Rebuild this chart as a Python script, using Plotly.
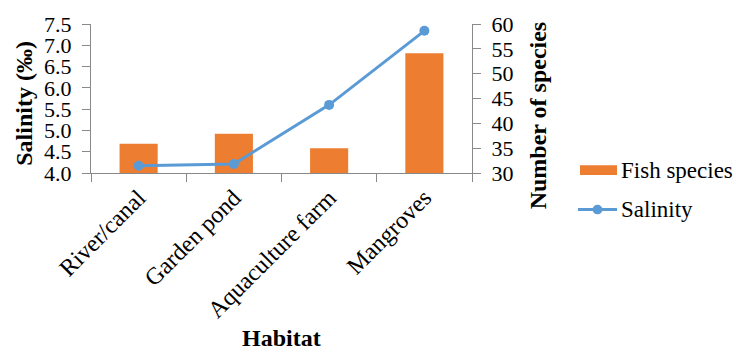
import plotly.graph_objects as go

# Habitat categories and measurements
habitats = ["River/canal", "Garden pond", "Aquaculture farm", "Mangroves"]
fish_species = [35.9, 37.9, 35.0, 54.1]
salinity = [4.17, 4.21, 5.60, 7.34]

left_ticks = [4.0, 4.5, 5.0, 5.5, 6.0, 6.5, 7.0, 7.5]
right_ticks = [30, 35, 40, 45, 50, 55, 60]

ORANGE = "#ED7D31"
BLUE = "#5B9BD5"
AXIS_GREY = "#898989"
FONT = "Liberation Serif"

# plot area geometry in pixels (used for legend/title placement)
W, H = 736, 361
L, R, T, B = 91, 264, 18, 188
PW, PH = W - L - R, H - T - B


def px_x(x):
    return (x - L) / PW


def px_y(y):
    return (H - B - y) / PH


fig = go.Figure()

# bars on the primary (right-hand) axis so the salinity line stays on top
fig.add_trace(go.Bar(
    x=habitats, y=fish_species, name="Fish species",
    marker=dict(color=ORANGE, line=dict(width=0)),
    yaxis="y", showlegend=False,
))
fig.add_trace(go.Scatter(
    x=habitats, y=salinity, name="Salinity", mode="lines+markers",
    line=dict(color=BLUE, width=3),
    marker=dict(color=BLUE, size=10),
    yaxis="y2", showlegend=False,
))

axis_common = dict(
    showline=True, linecolor=AXIS_GREY, linewidth=1.3,
    ticks="outside", ticklen=8, tickcolor=AXIS_GREY, tickwidth=1.3,
    showgrid=False, zeroline=False,
)
y_tickfont = dict(family=FONT, size=22, color="#000000")
x_tickfont = dict(family=FONT, size=24, color="#000000")

fig.update_layout(
    width=W, height=H,
    margin=dict(l=L, r=R, t=T, b=B),
    paper_bgcolor="white", plot_bgcolor="white",
    bargap=0.6,
    font=dict(family=FONT, color="#000000"),
    xaxis=dict(
        **axis_common, tickfont=x_tickfont,
        tickangle=-45, tickson="boundaries",
        range=[-0.5, 3.5],
    ),
    yaxis=dict(
        **axis_common, tickfont=y_tickfont,
        side="right", range=[30, 60], tickvals=right_ticks,
        ticklabelstandoff=6,
    ),
    yaxis2=dict(
        **axis_common, tickfont=y_tickfont,
        overlaying="y", side="left", range=[4.0, 7.5],
        tickvals=left_ticks, tickformat=".1f",
        ticklabelstandoff=6,
    ),
    showlegend=False,
)

title_font = dict(family=FONT, size=24, color="#000000")
annotations = [
    dict(text="<b>Salinity (‰)</b>", x=px_x(24), y=px_y(101), textangle=-90),
    dict(text="<b>Number of species</b>", x=px_x(538), y=px_y(113), textangle=-90),
    dict(text="<b>Habitat</b>", x=px_x(281), y=px_y(345)),
]
for a in annotations:
    a.update(xref="paper", yref="paper", showarrow=False,
             xanchor="center", yanchor="middle", font=title_font)

# legend entries
leg_font = dict(family=FONT, size=23, color="#000000")
annotations += [
    dict(text="Fish species", x=px_x(619), y=px_y(170), xref="paper", yref="paper",
         showarrow=False, xanchor="left", yanchor="middle", font=leg_font),
    dict(text="Salinity", x=px_x(619), y=px_y(211), xref="paper", yref="paper",
         showarrow=False, xanchor="left", yanchor="middle", font=leg_font),
]
fig.update_layout(annotations=annotations)

shapes = [
    dict(type="rect", xref="paper", yref="paper",
         x0=px_x(580), x1=px_x(617), y0=px_y(175), y1=px_y(165),
         fillcolor=ORANGE, line=dict(width=0)),
    dict(type="line", xref="paper", yref="paper",
         x0=px_x(578), x1=px_x(617), y0=px_y(211), y1=px_y(211),
         line=dict(color=BLUE, width=3)),
    dict(type="circle", xref="paper", yref="paper",
         x0=px_x(592.5), x1=px_x(602.5), y0=px_y(216), y1=px_y(206),
         fillcolor=BLUE, line=dict(width=0)),
]
fig.update_layout(shapes=shapes)

fig.write_html("out.html")
